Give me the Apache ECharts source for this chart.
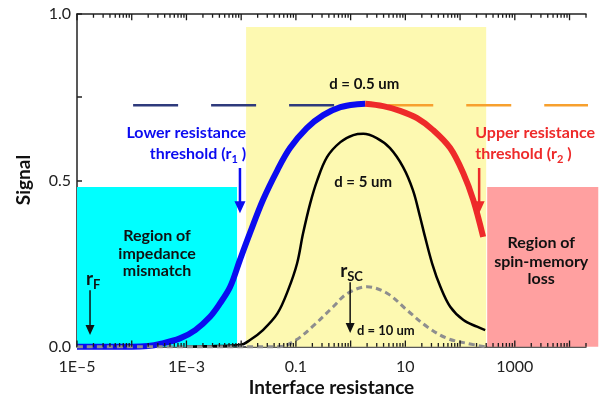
<!DOCTYPE html>
<html><head><meta charset="utf-8">
<script src="https://cdn.jsdelivr.net/npm/echarts@6/dist/echarts.min.js"></script>
<style>html,body{margin:0;padding:0;background:#fff}#c{width:608px;height:403px}</style>
</head><body><div id="c"></div>
<script>
// ---------------- data ----------------
const lowerR      = [1e-5, 1e-4, 2.0e-4, 3.3e-4, 7.6e-4, 1.45e-3, 2.7e-3, 4.1e-3, 6.3e-3, 9.5e-3, 0.0145, 0.025, 0.046, 0.078, 0.158, 0.316, 0.65, 1.32, 1.85];
const lowerSignal = [0, 0, 0.002, 0.008, 0.025, 0.05, 0.09, 0.13, 0.18, 0.261, 0.342, 0.441, 0.531, 0.597, 0.657, 0.696, 0.720, 0.729, 0.730];
const upperR      = [1.85, 3.93, 8.0, 16.4, 32.2, 65.9, 114, 174, 264];
const upperSignal = [0.730, 0.723, 0.709, 0.687, 0.651, 0.597, 0.522, 0.441, 0.330];
const d5R      = [1e-3, 3.2e-3, 9.5e-3, 0.0145, 0.025, 0.046, 0.072, 0.105, 0.135, 0.182, 0.245, 0.37, 0.65, 1.12, 1.7, 3.0, 5.25, 9.1, 13.8, 18.6, 22.9, 30.9, 43.7, 66, 115, 204, 288];
const d5Signal = [0, 0.002, 0.005, 0.02, 0.05, 0.10, 0.17, 0.25, 0.34, 0.43, 0.50, 0.57, 0.615, 0.636, 0.64, 0.627, 0.597, 0.54, 0.47, 0.39, 0.33, 0.25, 0.18, 0.12, 0.08, 0.06, 0.05];
const d10R      = [1e-5, 0.05, 0.1, 0.2, 0.48, 0.87, 2.0, 4.7, 10.7, 25, 58, 135, 282];
const d10Signal = [0, 0, 0.02, 0.06, 0.12, 0.16, 0.18, 0.16, 0.11, 0.06, 0.025, 0.01, 0];
const plateauLeftR  = [1.06e-4, 1.85];
const plateauRightR = [1.85, 3.35e4];
const plateauSignal = 0.726;
const mismatchRegion = [1e-5, 0.0084, 0.48];
const middleRegion   = [0.0123, 300, 0.961];
const spinLossRegion = [313, 3.35e4, 0.48];
const xTickExps   = [-5, -3, -1, 1, 3];
const xTickLabels = ['1E\u20135', '1E\u20133', '0.1', '10', '1000'];
const yTickValues = [0, 0.5, 1];
const yTickLabels = ['0.0', '0.5', '1.0'];
// ----------------------------------------------------------------

const FONT = 'Lato, "Noto Sans", sans-serif';
const zip = (a, b) => a.map((v, i) => [v, b[i]]);

function regionSeries(region, color) {
  return {
    type: 'custom', coordinateSystem: 'cartesian2d', clip: false, z: 1, silent: true,
    data: [region], encode: { x: [0, 1], y: 2 },
    renderItem: (p, api) => {
      const a = api.coord([api.value(0), api.value(2)]);
      const b = api.coord([api.value(1), 0]);
      return { type: 'rect', shape: { x: a[0], y: a[1], width: b[0] - a[0], height: b[1] - a[1] }, style: { fill: color } };
    }
  };
}
// log axis tick marks (1..9 x 10^e) as short vertical segments separated by gaps
const tickBottom = [], tickTop = [];
for (let e = -5; e <= 4; e++) for (let k = 1; k <= 9; k++) {
  const v = k * Math.pow(10, e); if (v > 2.0001e4) continue;
  const h = k === 1 ? 0.019 : 0.011;
  tickBottom.push([v, 0], [v, h], [v, null]);
  tickTop.push([v, 1], [v, 1 - h], [v, null]);
}
function tickSeries(data) {
  return { type: 'line', data, showSymbol: false, symbol: 'none', clip: false, silent: true, smooth: false,
    connectNulls: false, lineStyle: { color: '#1a1a1a', width: 1.3, cap: 'butt' }, z: 8 };
}

function lineSeries(r, s, color, width, type, extra) {
  return Object.assign({
    type: 'line', data: zip(r, s), showSymbol: false, symbol: 'none', clip: false, silent: true,
    smooth: 0.35, lineStyle: { color, width, type: type || 'solid', cap: 'butt' }, z: 3
  }, extra || {});
}

const option = {
  animation: false,
  backgroundColor: '#fff',
  grid: { left: 77, top: 14, right: 22, bottom: 56.3, containLabel: false },
  xAxis: [{
    type: 'log', logBase: 10, min: 1e-5, max: 2e4, interval: 1, position: 'bottom',
    axisLine: { show: true, onZero: false, lineStyle: { color: '#222', width: 1.5 } },
    axisTick: { show: false }, splitLine: { show: false }, minorTick: { show: false },
    axisLabel: {
      show: true, color: '#222', fontFamily: FONT, fontSize: 16, margin: 12, hideOverlap: false,
      showMinLabel: true, showMaxLabel: true,
      formatter: v => {
        const e = Math.log10(v), re = Math.round(e);
        if (Math.abs(e - re) > 1e-6) return '';
        const i = xTickExps.indexOf(re);
        return i >= 0 ? xTickLabels[i] : '';
      }
    }
  }, {
    type: 'log', logBase: 10, min: 1e-5, max: 2e4, position: 'top',
    axisLine: { show: true, onZero: false, lineStyle: { color: '#222', width: 1.5 } },
    axisTick: { show: false }, axisLabel: { show: false }, splitLine: { show: false }
  }],
  yAxis: {
    type: 'value', min: 0, max: 1, interval: 0.25,
    axisLine: { show: true, onZero: false, lineStyle: { color: '#222', width: 1.5 } },
    axisTick: { show: true, inside: true, length: 5, lineStyle: { color: '#222', width: 1.5 } },
    splitLine: { show: false },
    axisLabel: {
      color: '#222', fontFamily: FONT, fontSize: 16, margin: 6,
      formatter: v => { const i = yTickValues.findIndex(t => Math.abs(t - v) < 1e-9); return i >= 0 ? yTickLabels[i] : ''; }
    }
  },
  series: [
    regionSeries(mismatchRegion, '#00ffff'),
    regionSeries(middleRegion, '#fdf9b1'),
    regionSeries(spinLossRegion, '#ffa0a0'),
    lineSeries(plateauLeftR, [plateauSignal, plateauSignal], '#2e3a7c', 2.5, [45, 33], { smooth: false, z: 2 }),
    lineSeries(plateauRightR, [plateauSignal, plateauSignal], '#f7a02e', 2.5, [45, 33], { smooth: false, z: 2, lineStyle: { color: '#f7a02e', width: 2.5, type: [45, 33], dashOffset: 55, cap: 'butt' } }),
    lineSeries(d5R, d5Signal, '#000000', 2.5, 'solid', { z: 3 }),
    lineSeries(lowerR, lowerSignal, '#0b0bf0', 6, 'solid', { z: 4 }),
    lineSeries(upperR, upperSignal, '#ee2a2a', 6, 'solid', { z: 4 }),
    lineSeries(d10R, d10Signal, '#8e8e8e', 3, [6, 4], { z: 5 }),
    tickSeries(tickBottom),
    tickSeries(tickTop)
  ]
};

const chart = echarts.init(document.getElementById('c'), null, { renderer: 'canvas' });
chart.setOption(option);

// ---------------- annotations (anchored in data coordinates) ----------------
const P = (r, s) => chart.convertToPixel({ gridIndex: 0 }, [r, s]);
let gid = 0;
const g = [];
function txt(at, text, o) {
  const p = P(at[0], at[1]);
  return { id: 'g' + (gid++), type: 'text', x: p[0], y: p[1], z: 50, silent: true,
    style: Object.assign({ text, fill: '#111', font: 'bold 15px ' + FONT, align: 'center', verticalAlign: 'middle', textAlign: 'center', textVerticalAlign: 'middle' }, o || {}) };
}
function arrow(from, to, color, w) {
  const a = P(from[0], from[1]), b = P(to[0], to[1]);
  const x = a[0], hl = w > 2 ? 12 : 10, hw = w > 2 ? 5.5 : 4.5, sw = w / 2;
  return { id: 'g' + (gid++), type: 'polygon', z: 50, silent: true,
    shape: { points: [[x - sw, a[1]], [x + sw, a[1]], [x + sw, b[1] - hl], [x + hw, b[1] - hl], [x, b[1]], [x - hw, b[1] - hl], [x - sw, b[1] - hl]] },
    style: { fill: color } };
}
const rich = (color, size, sub) => ({
  m: { fontFamily: FONT, fontWeight: 'bold', fontSize: size, lineHeight: size + 6, fill: color, color },
  s: { fontFamily: FONT, fontWeight: 'bold', fontSize: sub, verticalAlign: 'bottom', fill: color, color }
});
const BLUE = '#0b0bf0', RED = '#ee2a2a';
g.push(
  txt([1.77, 0.79], 'd = 0.5 um'),
  txt([1.69, 0.495], 'd = 5 um'),
  txt([0.0123, 0.642], 'Lower resistance', { fill: BLUE, align: 'right', textAlign: 'right', font: 'bold 16px ' + FONT }),
  txt([0.0123, 0.580], '{m|threshold (r}{s|1}{m| )}', { fill: BLUE, align: 'right', textAlign: 'right', rich: rich(BLUE, 16, 11) }),
  arrow([0.0095, 0.537], [0.0095, 0.401], BLUE, 2.5),
  txt([189, 0.642], 'Upper resistance', { fill: RED, align: 'left', textAlign: 'left', font: 'bold 16px ' + FONT }),
  txt([189, 0.580], '{m|threshold (r}{s|2}{m| )}', { fill: RED, align: 'left', textAlign: 'left', rich: rich(RED, 16, 11) }),
  arrow([223, 0.537], [223, 0.401], RED, 2.5),
  txt([2.9e-4, 0.333], 'Region of', { font: 'bold 16px ' + FONT }),
  txt([2.9e-4, 0.278], 'impedance', { font: 'bold 16px ' + FONT }),
  txt([2.9e-4, 0.227], 'mismatch', { font: 'bold 16px ' + FONT }),
  txt([3040, 0.312], 'Region of', { font: 'bold 16px ' + FONT }),
  txt([3040, 0.255], 'spin-memory', { font: 'bold 16px ' + FONT }),
  txt([3040, 0.203], 'loss', { font: 'bold 16px ' + FONT }),
  txt([1.46e-5, 0.205], '{m|r}{s|F}', { align: 'left', textAlign: 'left', rich: rich('#111', 19, 13) }),
  arrow([1.73e-5, 0.17], [1.73e-5, 0.035], '#111', 1.5),
  txt([0.643, 0.228], '{m|r}{s|SC}', { align: 'left', textAlign: 'left', rich: rich('#111', 19, 13) }),
  arrow([0.98, 0.194], [0.98, 0.041], '#111', 1.5),
  txt([1.31, 0.047], 'd = 10 um', { font: 'bold 13px ' + FONT, align: 'left', textAlign: 'left' }),
  { id: 'xt', type: 'text', x: 331.5, y: 388, z: 50, silent: true, style: { text: 'Interface resistance', font: 'bold 19px ' + FONT, fill: '#111', align: 'center', verticalAlign: 'middle', textAlign: 'center', textVerticalAlign: 'middle' } },
  { id: 'yt', type: 'text', x: 24, y: 180, rotation: Math.PI / 2, z: 50, silent: true, style: { text: 'Signal', font: 'bold 19px ' + FONT, fill: '#111', align: 'center', verticalAlign: 'middle', textAlign: 'center', textVerticalAlign: 'middle' } }
);
chart.setOption({ graphic: g });
</script></body></html>
